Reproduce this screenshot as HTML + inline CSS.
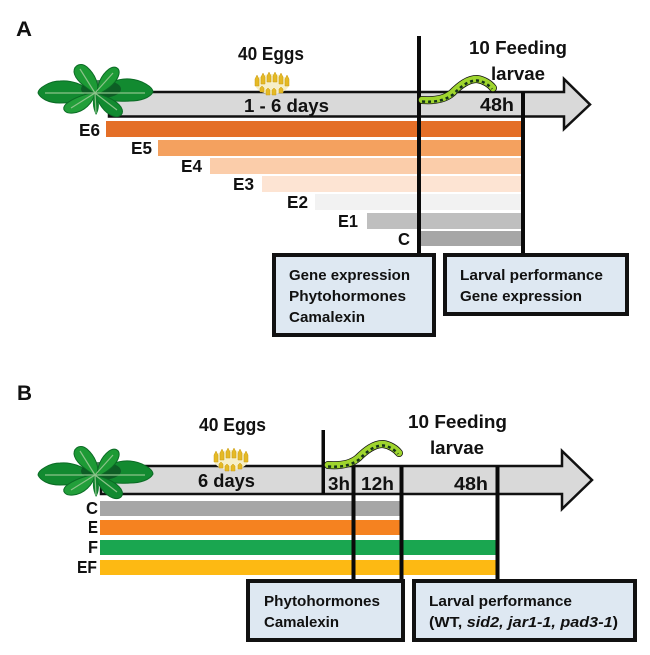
<!DOCTYPE html>
<html><head><meta charset="utf-8"><style>
html,body{margin:0;padding:0;background:#fff}
svg{display:block}
text{font-family:"Liberation Sans",sans-serif;font-weight:bold;fill:#111}
.b{font-size:18px}.s{font-size:15px}.l{font-size:17.5px}
</style></head><body>
<svg width="650" height="655" viewBox="0 0 650 655" xmlns="http://www.w3.org/2000/svg">
<defs>
<g id="plant">
<path d="M0 2C-12-10-25-13-35-12C-45-12-57-5-57 0C-55 5-47 10-35 10C-22 10-10 8 0 2Z" fill="#128a30" stroke="#0b6b25"/>
<path d="M0 2C12-10 22-15 35-14C47-13 58-6 58-1C55 5 45 8 35 8C22 9 10 8 0 2Z" fill="#128a30" stroke="#0b6b25"/>
<ellipse cx="6" cy="-4" rx="20" ry="9" fill="#0c4f22" opacity=".75"/>
<path d="M2 2C-8-5-20-12-21-21C-21-28-14-31-8-26C0-19 5-8 2 2Z" fill="#1d9a35" stroke="#0b6b25"/>
<path d="M2 2C2-8 6-18 14-24C20-28 25-25 24-19C22-10 12-3 2 2Z" fill="#1d9a35" stroke="#0b6b25"/>
<path d="M0 0C-8 0-22 5-29 11C-34 16-30 21-22 20C-11 19-2 10 0 0Z" fill="#229f3a" stroke="#0b6b25"/>
<path d="M0 0C8 2 20 6 26 14C30 21 25 25 18 23C9 20 3 10 0 0Z" fill="#128a30" stroke="#0b6b25"/>
<path d="M0 0C-3 7-3 14 1 22C5 16 5 7 0 0Z" fill="#0f7f2c"/>
<path d="M0 0H-50M0 0H50M0 0L-15-24M0 0L18-20M0 0L-24 15M0 0L22 17M0 0L1 20" stroke="#8cc38a" stroke-width="1.2" fill="none"/>
</g>
<g id="eggs">
<ellipse cx="18" cy="12" rx="17" ry="10" fill="#f6efc8"/>
<g fill="#e5b925" stroke="#c99b14" stroke-width=".5">
<path d="M1 7l2-4 2 4v7H1z"/><path d="M7 5l2-4 2 4v7H7z"/><path d="M13 4l2-4 2 4v6h-4z"/><path d="M19 4l2-4 2 4v6h-4z"/><path d="M25 5l2-4 2 4v7h-4z"/><path d="M31 7l2-4 2 4v7h-4z"/>
<path d="M6 16l2-2 2 2v4H6z"/><path d="M12 18l2-2 2 2v5h-4z"/><path d="M18 18l2-2 2 2v5h-4z"/><path d="M25 17l2-2 2 2v4h-4z"/>
</g>
</g>
<g id="cat">
<path d="M-1 11C12 12 22 10 29 4C37-4 45-10 54-10C61-9 67-5 70-1" fill="none" stroke="#111" stroke-width="8" stroke-linecap="round"/>
<path d="M-1 11C12 12 22 10 29 4C37-4 45-10 54-10C61-9 67-5 70-1" fill="none" stroke="#9fd52e" stroke-width="6.500" stroke-linecap="round"/>
<path d="M-1 12.500C12 13.500 22 11.500 30 5.500C38-2.500 45-8.500 54-8.500C60-8 66-4 69 0" fill="none" stroke="#14331a" stroke-width="2.500" stroke-dasharray="3 3"/>
</g>
</defs>

<!-- Panel A -->
<text x="16" y="36" style="font-size:21px" textLength="16" lengthAdjust="spacingAndGlyphs">A</text>
<path d="M109 92H564V79L590 104.500L564 129V116.500H109Z" fill="#d9d9d9" stroke="#111" stroke-width="2.500"/>
<rect x="106" y="121" width="415" height="16" fill="#e46f28"/>
<rect x="158" y="140" width="363" height="16" fill="#f4a15f"/>
<rect x="210" y="158" width="311" height="16" fill="#fbcdaa"/>
<rect x="262" y="176" width="259" height="16" fill="#fde4d3"/>
<rect x="315" y="194" width="206" height="16" fill="#f2f2f2"/>
<rect x="367" y="213" width="154" height="16" fill="#bfbfbf"/>
<rect x="420" y="231" width="101" height="15" fill="#a6a6a6"/>
<rect x="417" y="36" width="4" height="218" fill="#0a0a0a"/>
<rect x="521" y="92" width="4" height="162" fill="#0a0a0a"/>
<use href="#plant" x="95" y="93"/>
<use href="#eggs" x="254" y="72"/>
<use href="#cat" x="423" y="89"/>
<text class="b" x="238" y="60" textLength="66" lengthAdjust="spacingAndGlyphs">40 Eggs</text>
<text class="b" x="469" y="54" textLength="98" lengthAdjust="spacingAndGlyphs">10 Feeding</text>
<text class="b" x="491" y="80" textLength="54" lengthAdjust="spacingAndGlyphs">larvae</text>
<text class="b" x="244" y="112" textLength="85" lengthAdjust="spacingAndGlyphs">1 - 6 days</text>
<text class="b" x="480" y="111" textLength="34" lengthAdjust="spacingAndGlyphs">48h</text>
<text class="l" x="79" y="136" textLength="21" lengthAdjust="spacingAndGlyphs">E6</text>
<text class="l" x="131" y="154" textLength="21" lengthAdjust="spacingAndGlyphs">E5</text>
<text class="l" x="181" y="172" textLength="21" lengthAdjust="spacingAndGlyphs">E4</text>
<text class="l" x="233" y="190" textLength="21" lengthAdjust="spacingAndGlyphs">E3</text>
<text class="l" x="287" y="208" textLength="21" lengthAdjust="spacingAndGlyphs">E2</text>
<text class="l" x="338" y="227" textLength="20" lengthAdjust="spacingAndGlyphs">E1</text>
<text class="l" x="398" y="245" textLength="12" lengthAdjust="spacingAndGlyphs">C</text>
<rect x="274" y="255" width="160" height="80" fill="#dee8f2" stroke="#111" stroke-width="4"/>
<rect x="445" y="255" width="182" height="59" fill="#dee8f2" stroke="#111" stroke-width="4"/>
<text class="s" x="289" y="280" textLength="121" lengthAdjust="spacingAndGlyphs">Gene expression</text>
<text class="s" x="289" y="301" textLength="117" lengthAdjust="spacingAndGlyphs">Phytohormones</text>
<text class="s" x="289" y="322" textLength="76" lengthAdjust="spacingAndGlyphs">Camalexin</text>
<text class="s" x="460" y="280" textLength="143" lengthAdjust="spacingAndGlyphs">Larval performance</text>
<text class="s" x="460" y="301" textLength="122" lengthAdjust="spacingAndGlyphs">Gene expression</text>

<!-- Panel B -->
<text x="17" y="400" style="font-size:21px" textLength="15" lengthAdjust="spacingAndGlyphs">B</text>
<path d="M101 466H562V451L592 480L562 509V494H101Z" fill="#d9d9d9" stroke="#111" stroke-width="2.500"/>
<rect x="100" y="501" width="300" height="15" fill="#a6a6a6"/>
<rect x="100" y="520" width="300" height="15" fill="#f58220"/>
<rect x="100" y="540" width="397" height="15" fill="#1aa650"/>
<rect x="100" y="560" width="397" height="15" fill="#fdb913"/>
<rect x="321.500" y="430" width="3.500" height="64" fill="#0a0a0a"/>
<rect x="351.500" y="466" width="4" height="114" fill="#0a0a0a"/>
<rect x="399.500" y="466" width="4" height="114" fill="#0a0a0a"/>
<rect x="495.500" y="466" width="4" height="114" fill="#0a0a0a"/>
<use href="#plant" x="95" y="475"/>
<use href="#eggs" x="213" y="448"/>
<use href="#cat" x="329" y="454"/>
<text class="b" x="199" y="431" textLength="67" lengthAdjust="spacingAndGlyphs">40 Eggs</text>
<text class="b" x="408" y="428" textLength="99" lengthAdjust="spacingAndGlyphs">10 Feeding</text>
<text class="b" x="430" y="454" textLength="54" lengthAdjust="spacingAndGlyphs">larvae</text>
<text class="b" x="198" y="487" textLength="57" lengthAdjust="spacingAndGlyphs">6 days</text>
<text class="b" x="328" y="490" textLength="22" lengthAdjust="spacingAndGlyphs">3h</text>
<text class="b" x="361" y="490" textLength="33" lengthAdjust="spacingAndGlyphs">12h</text>
<text class="b" x="454" y="490" textLength="34" lengthAdjust="spacingAndGlyphs">48h</text>
<text class="l" x="86" y="514" textLength="12" lengthAdjust="spacingAndGlyphs">C</text>
<text class="l" x="88" y="533" textLength="10" lengthAdjust="spacingAndGlyphs">E</text>
<text class="l" x="88" y="553" textLength="10" lengthAdjust="spacingAndGlyphs">F</text>
<text class="l" x="77" y="573" textLength="20" lengthAdjust="spacingAndGlyphs">EF</text>
<rect x="248" y="581" width="155" height="59" fill="#dee8f2" stroke="#111" stroke-width="4"/>
<rect x="414" y="581" width="221" height="59" fill="#dee8f2" stroke="#111" stroke-width="4"/>
<text class="s" x="264" y="606" textLength="116" lengthAdjust="spacingAndGlyphs">Phytohormones</text>
<text class="s" x="264" y="627" textLength="75" lengthAdjust="spacingAndGlyphs">Camalexin</text>
<text class="s" x="429" y="606" textLength="143" lengthAdjust="spacingAndGlyphs">Larval performance</text>
<text class="s" x="429" y="627" textLength="189" lengthAdjust="spacingAndGlyphs">(WT, <tspan font-style="italic">sid2,  jar1-1, pad3-1</tspan>)</text>
</svg>
</body></html>
